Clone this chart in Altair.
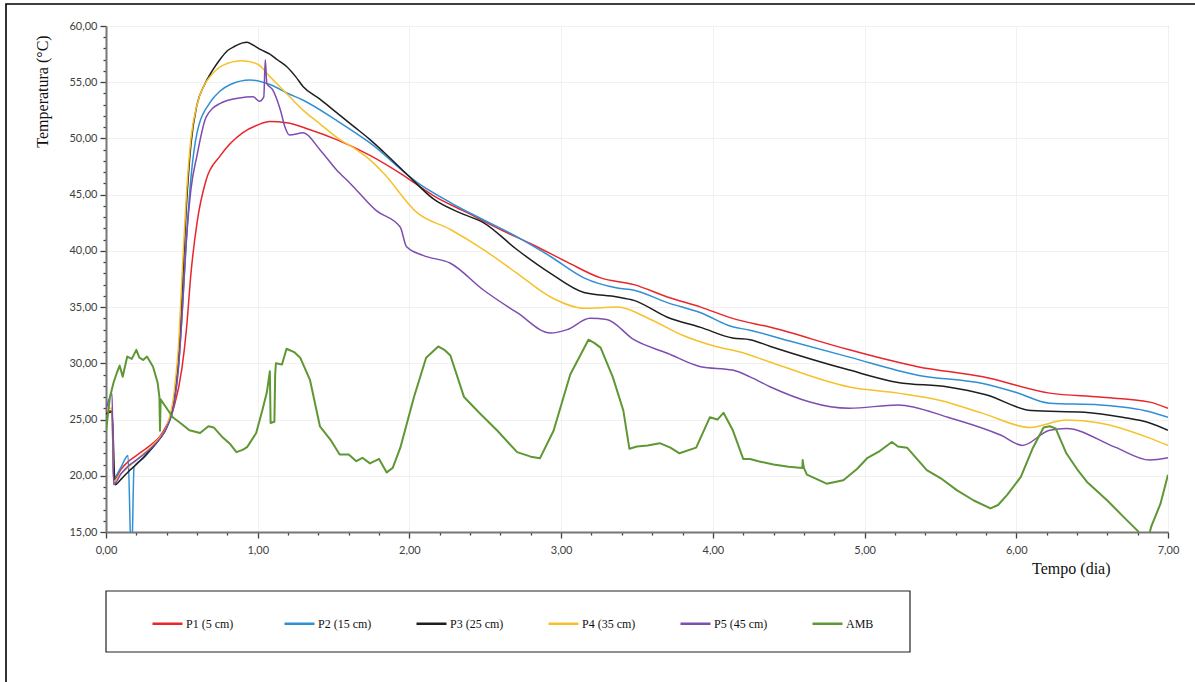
import altair as alt
import pandas as pd

# Series names and line colours
SERIES = ["P1 (5 cm)", "P2 (15 cm)", "P3 (25 cm)", "P4 (35 cm)", "P5 (45 cm)", "AMB"]
COLORS = ["#e8262b", "#2f8fd5", "#1e1e1e", "#f6c12b", "#7d4db0", "#5e9733"]

# P1 - 5 cm
p1_day = [0, 0.04, 0.05, 0.1, 0.15, 0.2, 0.3, 0.355, 0.4, 0.45, 0.5, 0.53, 0.56, 0.6, 0.66,
          0.75, 0.9, 1.0, 1.08, 1.19, 1.34, 1.52, 1.74, 1.94, 2.16, 2.38, 2.6, 2.82, 3.04,
          3.26, 3.48, 3.7, 3.92, 4.13, 4.38, 4.9, 5.35, 5.78, 6.22, 6.55, 6.88, 7.0]
p1_temp = [25.6, 25.8, 19.6, 20.6, 21.3, 21.8, 22.8, 23.5, 24.5, 26.2, 29.5, 33.0, 38.0, 42.5, 46.3,
           48.4, 50.5, 51.2, 51.5, 51.4, 50.8, 49.9, 48.5, 46.9, 44.9, 43.4, 41.9, 40.5, 39.0,
           37.6, 37.0, 35.9, 35.0, 34.0, 33.2, 31.2, 29.7, 28.8, 27.35, 27.0, 26.55, 26.0]

# P2 - 15 cm
p2_day = [0, 0.04, 0.05, 0.1, 0.145, 0.168, 0.185, 0.25, 0.3, 0.355, 0.4, 0.45, 0.48, 0.5, 0.53,
          0.56, 0.6, 0.686, 0.75, 0.82, 0.95, 1.08, 1.2, 1.3, 1.52, 1.74, 2.05, 2.27, 2.49, 2.71,
          2.93, 3.15, 3.37, 3.48, 3.7, 3.92, 4.13, 4.245, 4.5, 4.9, 5.35, 5.78, 6.0, 6.22, 6.55,
          6.88, 7.0]
p2_temp = [25.5, 25.7, 19.8, 20.8, 21.8, 12.0, 20.8, 21.6, 22.4, 23.3, 24.3, 26.5, 30.0, 34.0, 41.0,
           46.5, 50.5, 53.2, 54.2, 54.8, 55.2, 54.8, 54.0, 53.4, 51.6, 49.6, 46.1, 44.3, 42.75, 41.25,
           39.5, 37.6, 36.7, 36.5, 35.4, 34.5, 33.25, 32.95, 32.0, 30.55, 28.95, 28.2, 27.4, 26.45, 26.3,
           25.7, 25.2]

# P3 - 25 cm
p3_day = [0, 0.04, 0.06, 0.1, 0.15, 0.2, 0.3, 0.355, 0.4, 0.45, 0.48, 0.5, 0.53, 0.56, 0.6, 0.65,
          0.7, 0.75, 0.8, 0.85, 0.9, 0.93, 0.97, 1.02, 1.08, 1.13, 1.19, 1.25, 1.3, 1.41, 1.52,
          1.63, 1.74, 1.83, 2.0, 2.16, 2.33, 2.49, 2.71, 2.93, 3.15, 3.37, 3.48, 3.7, 3.92, 4.13,
          4.245, 4.38, 4.9, 5.22, 5.55, 5.8, 6.1, 6.45, 6.7, 6.88, 7.0]
p3_temp = [25.5, 25.7, 19.2, 19.7, 20.4, 21.0, 22.4, 23.3, 24.3, 27.0, 31.0, 36.0, 44.0, 49.5, 53.0, 54.8,
           56.0, 57.0, 57.8, 58.2, 58.5, 58.55, 58.3, 57.9, 57.5, 57.0, 56.4, 55.5, 54.6, 53.5, 52.3,
           51.1, 49.9, 48.8, 46.6, 44.6, 43.4, 42.5, 40.1, 38.0, 36.3, 35.9, 35.6, 34.1, 33.2, 32.25,
           32.1, 31.5, 29.4, 28.3, 27.9, 27.2, 25.8, 25.65, 25.2, 24.7, 24.05]

# P4 - 35 cm
p4_day = [0, 0.04, 0.05, 0.1, 0.15, 0.2, 0.3, 0.355, 0.4, 0.45, 0.48, 0.5, 0.53, 0.56, 0.6, 0.65,
          0.686, 0.77, 0.9, 1.0, 1.08, 1.19, 1.3, 1.41, 1.52, 1.65, 1.74, 1.83, 2.05, 2.27, 2.49,
          2.71, 2.93, 3.15, 3.37, 3.59, 3.8, 4.02, 4.18, 4.38, 4.9, 5.22, 5.5, 5.78, 6.09, 6.33,
          6.55, 6.88, 7.0]
p4_temp = [26.0, 26.0, 19.5, 20.2, 20.8, 21.4, 22.6, 23.4, 24.4, 27.5, 32.0, 37.5, 45.0, 50.0, 53.0, 54.8,
           55.5, 56.5, 56.9, 56.6, 55.5, 54.0, 52.5, 51.3, 50.1, 49.0, 48.1, 46.9, 43.4, 41.9, 40.1,
           38.0, 35.9, 34.9, 35.0, 33.9, 32.5, 31.5, 31.0, 30.1, 27.9, 27.35, 26.7, 25.55, 24.3, 24.95,
           24.7, 23.35, 22.7]

# P5 - 45 cm
p5_day = [0, 0.04, 0.05, 0.1, 0.15, 0.2, 0.3, 0.355, 0.4, 0.45, 0.48, 0.5, 0.53, 0.56, 0.6, 0.66,
          0.75, 0.88, 0.97, 1.01, 1.04, 1.05, 1.06, 1.1, 1.15, 1.18, 1.21, 1.3, 1.41, 1.52, 1.61,
          1.78, 1.94, 1.98, 2.09, 2.27, 2.49, 2.71, 2.93, 3.04, 3.19, 3.3, 3.48, 3.7, 3.92, 4.13,
          4.245, 4.38, 4.9, 5.22, 5.55, 5.9, 6.04, 6.22, 6.33, 6.65, 6.88, 7.0]
p5_temp = [25.9, 27.3, 19.2, 20.2, 20.9, 21.4, 22.5, 23.3, 24.3, 26.5, 30.0, 34.0, 41.0, 45.5, 48.5, 51.9,
           53.1, 53.6, 53.7, 53.3, 53.7, 57.0, 54.9, 54.3, 52.5, 51.0, 50.3, 50.5, 49.0, 47.2, 46.0,
           43.6, 42.1, 40.4, 39.6, 38.9, 36.5, 34.5, 32.7, 33.0, 34.0, 33.9, 32.1, 30.9, 29.7, 29.4,
           28.8, 27.9, 26.0, 26.3, 25.2, 23.6, 22.7, 24.05, 24.2, 22.55, 21.4, 21.6]

# AMB - ambient air
amb_day = [0, 0.026, 0.05, 0.07, 0.09, 0.11, 0.14, 0.17, 0.2, 0.22, 0.245, 0.27, 0.31, 0.34, 0.352,
           0.356, 0.36, 0.4, 0.44, 0.49, 0.55, 0.62, 0.675, 0.71, 0.77, 0.82, 0.86, 0.9, 0.93, 0.99,
           1.03, 1.06, 1.08, 1.085, 1.11, 1.115, 1.12, 1.16, 1.19, 1.24, 1.28, 1.345, 1.41, 1.48,
           1.54, 1.6, 1.65, 1.69, 1.74, 1.8, 1.85, 1.89, 1.94, 2.03, 2.11, 2.19, 2.23, 2.27, 2.36,
           2.46, 2.58, 2.71, 2.8, 2.86, 2.95, 3.06, 3.18, 3.22, 3.26, 3.34, 3.41, 3.45, 3.5, 3.57,
           3.65, 3.72, 3.78, 3.89, 3.98, 4.03, 4.07, 4.13, 4.2, 4.245, 4.3, 4.4, 4.5, 4.59, 4.592,
           4.6, 4.62, 4.75, 4.86, 4.95, 5.02, 5.1, 5.18, 5.22, 5.28, 5.41, 5.5, 5.61, 5.72, 5.83,
           5.88, 5.94, 6.03, 6.11, 6.18, 6.22, 6.26, 6.33, 6.4, 6.47, 6.6, 6.71, 6.8, 6.83, 6.87,
           6.89, 6.95, 7.0]
amb_temp = [24.0, 27.0, 28.3, 29.1, 29.8, 28.8, 30.6, 30.4, 31.2, 30.5, 30.3, 30.6, 29.7, 28.3, 27.0,
            24.0, 26.8, 26.0, 25.2, 24.7, 24.05, 23.8, 24.4, 24.3, 23.4, 22.8, 22.1, 22.3, 22.55, 23.8,
            25.8, 27.4, 29.3, 24.7, 24.8, 29.0, 30.0, 29.9, 31.3, 31.0, 30.5, 28.5, 24.4, 23.2,
            21.9, 21.9, 21.3, 21.6, 21.1, 21.5, 20.3, 20.7, 22.5, 27.0, 30.5, 31.5, 31.2, 30.7, 27.0,
            25.6, 24.0, 22.1, 21.7, 21.55, 24.0, 29.0, 32.1, 31.8, 31.4, 28.8, 25.8, 22.4, 22.6, 22.7,
            22.9, 22.5, 22.0, 22.5, 25.2, 25.0, 25.6, 24.1, 21.5, 21.5, 21.3, 21.0, 20.8, 20.7, 21.4,
            20.7, 20.1, 19.3, 19.6, 20.6, 21.6, 22.2, 23.0, 22.6, 22.5, 20.5, 19.8, 18.7, 17.8, 17.1,
            17.4, 18.3, 19.9, 22.5, 24.3, 24.4, 24.2, 22.0, 20.6, 19.4, 17.8, 16.3, 15.1, 14.6, 14.5,
            15.5, 17.5, 20.1]

DAYS = [p1_day, p2_day, p3_day, p4_day, p5_day, amb_day]
TEMPS = [p1_temp, p2_temp, p3_temp, p4_temp, p5_temp, amb_temp]

# Axis tick positions (major + minor)
x_ticks = [round(i * 0.2, 1) for i in range(36)]
y_ticks = list(range(15, 61))

frames = []
for name, d, t in zip(SERIES, DAYS, TEMPS):
    frames.append(pd.DataFrame({"serie": name, "dia": d, "temp": t, "k": range(len(d))}))
df = pd.concat(frames, ignore_index=True)

W, H = 1062, 506
SERIF = "Liberation Serif"
SANS = "Lato"
x_major = "abs(datum.value - round(datum.value)) < 1e-6"
y_major = "datum.value % 5 === 0"

x_axis = alt.Axis(
    values=x_ticks,
    labelExpr=f"{x_major} ? replace(format(datum.value, '.2f'), '.', ',') : ''",
    tickSize={"condition": {"test": x_major, "value": 6}, "value": 3},
    gridOpacity={"condition": {"test": x_major, "value": 1}, "value": 0},
    gridColor="#f1f1f1",
    title="Tempo (dia)", titleX=1004, titleY=36, titleAlign="right", titleBaseline="middle",
    titleFont=SERIF, titleFontSize=16, titleFontWeight="normal", titleColor="#111111",
    labelFont=SANS, labelFontSize=11, labelColor="#404040", labelPadding=6,
    labelFlush=False, labelOverlap=False,
    domainColor="#777777", domainWidth=2, tickColor="#404040", tickWidth=1.3,
)
y_axis = alt.Axis(
    values=y_ticks,
    labelExpr=f"{y_major} ? replace(format(datum.value, '.2f'), '.', ',') : ''",
    tickSize={"condition": {"test": y_major, "value": 6}, "value": 3},
    gridOpacity={"condition": {"test": y_major, "value": 1}, "value": 0},
    gridColor="#f1f1f1",
    title="Temperatura (°C)", titleX=-64, titleY=65, titleAngle=270, titleAlign="center",
    titleBaseline="middle",
    titleFont=SERIF, titleFontSize=16, titleFontWeight="normal", titleColor="#111111",
    labelFont=SANS, labelFontSize=11, labelColor="#404040", labelPadding=3,
    labelFlush=False, labelOverlap=False,
    domainColor="#777777", domainWidth=2, tickColor="#404040", tickWidth=1.3,
)

x_enc = alt.X("dia:Q", scale=alt.Scale(domain=[0, 7], nice=False), axis=x_axis)
y_enc = alt.Y("temp:Q", scale=alt.Scale(domain=[15, 60], nice=False, zero=False), axis=y_axis)
color_enc = alt.Color(
    "serie:N",
    scale=alt.Scale(domain=SERIES, range=COLORS),
    legend=alt.Legend(
        title=None, orient="none", legendX=45, legendY=581, direction="horizontal",
        columns=6, gridAlign="all", columnPadding=39, symbolType="stroke",
        symbolSize=900, symbolStrokeWidth=2.5, labelFont=SERIF, labelFontSize=12,
        labelColor="#111111", labelOffset=2, padding=0,
    ),
)

base = alt.Chart(df)
# soil probes: smooth curves
probes = base.transform_filter(alt.datum.serie != "AMB").mark_line(
    clip=True, interpolate="monotone", strokeWidth=1.5
).encode(x=x_enc, y=y_enc, color=color_enc, order="k:Q")
# ambient air: raw, noisy trace
ambient = base.transform_filter(alt.datum.serie == "AMB").mark_line(
    clip=True, strokeWidth=2.0, strokeJoin="round"
).encode(x=x_enc, y=y_enc, color=color_enc, order="k:Q")

box = pd.DataFrame({"b": [0]})
# outer frame of the figure
frame = alt.Chart(box).mark_rect(fillOpacity=0, stroke="#000000", strokeWidth=1.6).encode(
    x=alt.value(-100), x2=alt.value(W + 200), y=alt.value(-22), y2=alt.value(H + 300)
)
# box around the legend
legend_box = alt.Chart(box).mark_rect(fillOpacity=0, stroke="#222222", strokeWidth=1.2).encode(
    x=alt.value(0), x2=alt.value(804), y=alt.value(565), y2=alt.value(626)
)

chart = alt.layer(frame, legend_box, probes, ambient).properties(
    width=W, height=H,
    autosize=alt.AutoSizeParams(type="none"),
    padding={"left": 106, "top": 26, "right": 27, "bottom": 150},
    background="white",
).configure_view(stroke="#8c8c8c", strokeWidth=1)

chart.save("out.html", embed_options={"renderer": "svg", "actions": False})
